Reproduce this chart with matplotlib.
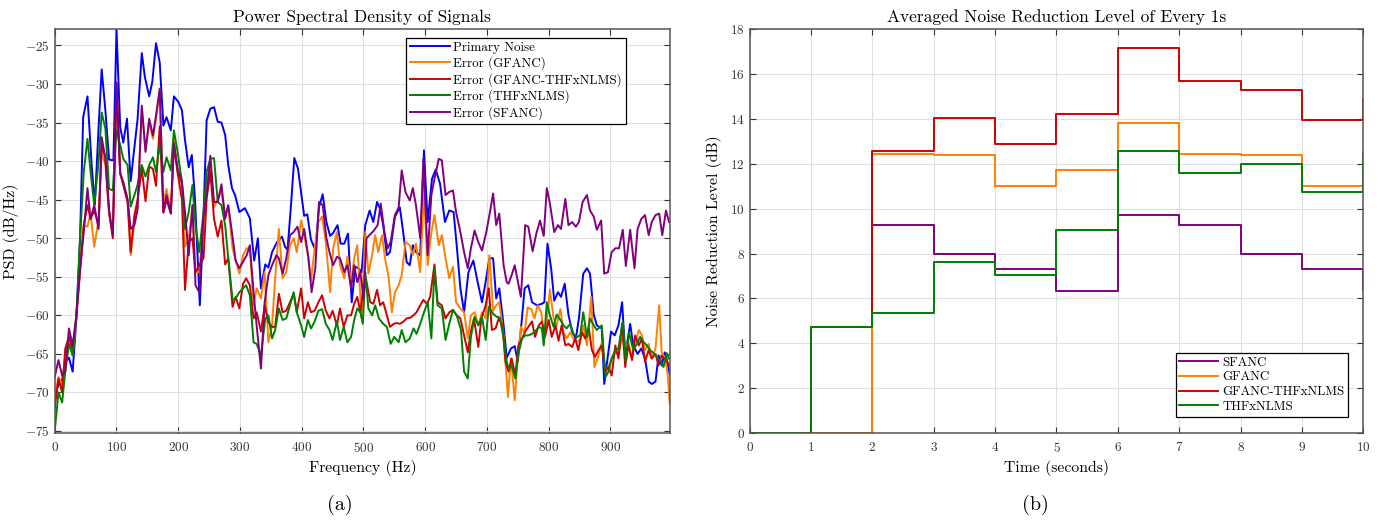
import numpy as np
import matplotlib
matplotlib.use("Agg")
import matplotlib.pyplot as plt

# 1. DATA - PSD of signals (Hz / dB/Hz)
f_primary = [0, 6, 12, 17, 23, 29, 35, 41, 46, 53,
             60, 65, 71, 76, 82, 88, 95, 100, 106, 111,
             117, 123, 129, 134, 141, 146, 153, 158, 164, 170,
             176, 181, 188, 193, 200, 206, 211, 217, 222, 227,
             235, 241, 246, 252, 258, 264, 270, 276, 281, 287,
             292, 299, 308, 316, 323, 329, 334, 341, 346, 352,
             360, 368, 373, 377, 382, 388, 394, 399, 404, 409,
             415, 422, 428, 434, 440, 446, 451, 458, 463, 469,
             475, 481, 487, 492, 497, 503, 510, 516, 522, 527,
             532, 538, 543, 551, 559, 565, 570, 575, 580, 585,
             592, 598, 604, 611, 617, 624, 632, 639, 646, 651,
             657, 663, 670, 678, 685, 692, 697, 704, 710, 715,
             720, 727, 732, 739, 745, 750, 756, 761, 767, 773,
             781, 789, 793, 798, 804, 809, 815, 820, 826, 832,
             838, 844, 849, 856, 862, 867, 873, 878, 886, 890,
             896, 901, 907, 913, 919, 924, 932, 937, 944, 950,
             956, 962, 967, 973, 978, 983, 988, 991, 996]
psd_primary = [-70.5, -69.0, -68.3, -66.0, -65.5, -67.3, -60.5, -50.0, -34.3, -31.6,
               -40.8, -45.6, -35.6, -28.1, -33.4, -39.8, -39.9, -22.9, -35.6, -37.6,
               -34.5, -42.6, -38.2, -34.7, -26.0, -29.1, -31.6, -29.7, -24.7, -27.2,
               -35.4, -34.3, -36.0, -31.6, -32.3, -33.4, -37.3, -40.8, -39.2, -44.7,
               -58.7, -47.0, -34.7, -33.2, -33.0, -34.9, -35.0, -36.6, -40.5, -43.5,
               -44.4, -46.6, -46.1, -47.4, -52.9, -50.0, -56.5, -53.4, -53.8, -51.8,
               -50.5, -49.8, -51.1, -51.5, -46.4, -39.6, -41.0, -44.0, -47.1, -46.9,
               -50.2, -51.5, -46.0, -44.3, -47.9, -49.7, -49.3, -48.3, -50.7, -50.7,
               -49.4, -58.3, -53.7, -53.9, -54.4, -48.3, -46.4, -47.9, -45.3, -46.2,
               -48.3, -52.2, -51.8, -47.2, -46.0, -49.6, -53.1, -53.5, -50.9, -51.8,
               -52.2, -38.6, -47.9, -42.3, -41.1, -42.9, -47.9, -46.4, -46.6, -50.9,
               -56.5, -59.6, -54.4, -52.9, -55.7, -58.3, -56.1, -52.6, -52.6, -57.8,
               -56.5, -61.3, -65.5, -64.3, -64.0, -66.0, -61.0, -56.5, -56.1, -58.3,
               -58.7, -58.5, -58.3, -50.7, -53.9, -58.1, -57.0, -57.6, -55.9, -59.9,
               -62.1, -63.0, -60.4, -54.6, -53.9, -54.6, -59.9, -61.3, -61.7, -68.9,
               -65.2, -62.1, -62.6, -61.3, -58.3, -65.2, -61.1, -63.9, -65.0, -64.3,
               -65.6, -68.6, -68.9, -68.6, -65.2, -66.5, -64.8, -65.6, -67.6]

f_gfanc = [0, 6, 12, 17, 23, 29, 35, 41, 47, 53,
           58, 64, 71, 76, 82, 88, 94, 100, 106, 111,
           118, 123, 129, 134, 141, 147, 153, 159, 164, 170,
           176, 181, 188, 193, 199, 206, 211, 217, 223, 228,
           234, 241, 246, 252, 258, 264, 270, 276, 281, 288,
           293, 299, 305, 311, 316, 322, 327, 334, 340, 346,
           352, 357, 363, 369, 375, 381, 387, 392, 399, 404,
           410, 415, 421, 427, 433, 439, 446, 451, 457, 462,
           469, 474, 480, 485, 490, 497, 503, 508, 514, 519,
           524, 530, 535, 541, 546, 551, 557, 562, 568, 575,
           580, 585, 592, 598, 604, 610, 615, 622, 627, 633,
           639, 645, 650, 657, 663, 669, 674, 680, 686, 692,
           698, 704, 710, 715, 720, 727, 734, 739, 745, 750,
           755, 761, 766, 772, 777, 782, 788, 793, 799, 802,
           808, 813, 819, 824, 829, 835, 840, 846, 851, 856,
           862, 869, 874, 880, 886, 892, 897, 902, 908, 913,
           919, 924, 929, 935, 940, 946, 951, 956, 962, 967,
           973, 979, 983, 989, 993, 996]
psd_gfanc = [-70.4, -68.0, -69.1, -65.2, -62.8, -65.2, -60.3, -52.6, -48.3, -48.5,
             -46.8, -51.1, -47.5, -38.9, -40.5, -47.0, -49.6, -31.0, -41.4, -43.1,
             -45.1, -52.2, -47.9, -46.0, -33.2, -38.6, -34.9, -37.1, -34.5, -31.0,
             -45.3, -43.6, -46.6, -37.1, -41.4, -43.1, -51.1, -50.0, -46.0, -54.4,
             -54.4, -48.3, -42.7, -40.5, -46.0, -44.9, -44.0, -47.0, -45.8, -51.3,
             -52.9, -54.6, -52.2, -51.3, -51.3, -58.7, -56.5, -57.8, -54.4, -63.5,
             -61.3, -55.2, -48.8, -55.2, -54.4, -50.9, -50.0, -51.8, -47.7, -49.6,
             -52.2, -55.5, -51.3, -47.9, -47.2, -50.5, -57.0, -51.3, -49.2, -53.5,
             -55.2, -52.4, -55.7, -52.6, -50.9, -60.4, -49.2, -54.6, -52.2, -49.6,
             -51.8, -49.6, -52.6, -55.2, -59.6, -57.0, -56.1, -54.8, -50.5, -50.9,
             -52.2, -50.7, -54.4, -44.2, -53.5, -49.2, -47.0, -50.9, -49.6, -52.6,
             -55.2, -53.7, -58.3, -59.1, -59.6, -63.0, -60.0, -59.6, -61.3, -59.6,
             -60.4, -52.2, -59.4, -58.7, -58.3, -62.6, -70.6, -65.6, -71.0, -65.6,
             -61.5, -62.2, -59.0, -59.2, -60.4, -58.7, -59.6, -63.0, -59.2, -56.7,
             -60.4, -61.3, -59.2, -62.2, -63.0, -62.2, -63.0, -63.5, -63.0, -61.3,
             -63.9, -57.6, -66.7, -65.4, -63.5, -67.3, -66.5, -65.6, -64.8, -65.0,
             -63.0, -64.1, -63.5, -65.6, -63.7, -61.9, -62.6, -64.5, -63.7, -65.6,
             -64.3, -58.7, -64.8, -65.6, -67.8, -71.5]

f_hybrid = [0, 6, 12, 17, 23, 29, 35, 41, 47, 53,
            58, 64, 71, 76, 82, 88, 94, 100, 106, 111,
            118, 123, 129, 134, 141, 147, 153, 159, 164, 170,
            176, 181, 188, 193, 199, 206, 211, 217, 223, 228,
            234, 241, 246, 252, 258, 264, 270, 276, 281, 288,
            293, 299, 305, 310, 316, 322, 327, 334, 340, 346,
            352, 357, 363, 369, 375, 381, 387, 392, 399, 404,
            410, 415, 421, 427, 433, 439, 445, 450, 457, 462,
            468, 474, 480, 485, 490, 495, 499, 504, 511, 516,
            522, 527, 532, 538, 543, 549, 554, 559, 565, 570,
            576, 581, 586, 592, 597, 603, 608, 615, 620, 627,
            633, 639, 645, 651, 657, 663, 669, 674, 679, 686,
            691, 698, 703, 708, 714, 719, 725, 730, 735, 740,
            746, 751, 757, 762, 767, 773, 778, 784, 789, 794,
            800, 805, 811, 816, 821, 827, 832, 838, 843, 848,
            854, 859, 865, 870, 875, 881, 886, 892, 897, 902,
            908, 913, 919, 924, 929, 935, 940, 946, 951, 956,
            962, 967, 973, 978, 983, 989, 994]
psd_hybrid = [-72.0, -68.2, -70.0, -64.3, -62.8, -64.5, -60.3, -54.4, -48.3, -45.7,
              -47.5, -46.4, -48.3, -37.9, -39.5, -46.4, -50.0, -30.0, -41.6, -43.1,
              -45.3, -51.8, -47.0, -45.1, -41.0, -45.2, -40.7, -41.0, -43.2, -35.5,
              -46.7, -45.0, -46.8, -38.0, -41.5, -45.0, -56.7, -50.5, -50.0, -54.4,
              -53.5, -52.6, -44.9, -41.4, -47.5, -49.8, -47.7, -53.4, -52.6, -58.9,
              -57.6, -59.1, -55.9, -55.2, -56.1, -60.4, -59.6, -62.1, -58.7, -60.9,
              -61.5, -61.5, -57.2, -59.6, -59.4, -58.3, -57.2, -59.6, -56.5, -60.4,
              -58.3, -59.6, -59.4, -58.3, -57.4, -59.4, -60.4, -59.4, -61.3, -59.1,
              -61.5, -60.0, -60.0, -58.5, -57.6, -59.6, -57.0, -55.2, -58.3, -58.5,
              -56.7, -58.7, -58.3, -60.0, -61.5, -61.1, -61.0, -61.1, -60.8, -60.4,
              -60.3, -60.0, -59.6, -58.7, -58.0, -58.5, -57.6, -53.4, -58.3, -58.7,
              -60.4, -59.6, -59.3, -60.0, -60.4, -62.6, -64.8, -62.1, -60.4, -64.1,
              -60.4, -58.7, -56.5, -61.9, -61.7, -60.4, -61.3, -66.0, -67.3, -65.6,
              -67.8, -63.9, -63.0, -62.1, -61.5, -60.8, -62.8, -61.3, -60.8, -62.8,
              -60.6, -62.8, -61.3, -63.3, -61.3, -63.9, -63.7, -64.1, -63.0, -64.5,
              -62.2, -63.0, -61.7, -64.5, -65.4, -64.5, -63.9, -67.3, -66.7, -67.8,
              -63.9, -65.6, -61.1, -66.7, -63.9, -65.8, -62.6, -63.9, -63.0, -66.0,
              -64.5, -65.6, -65.0, -66.5, -65.2, -65.8, -66.3]

f_thfx = [0, 6, 12, 17, 23, 29, 35, 41, 47, 53,
          58, 64, 71, 76, 82, 88, 94, 100, 106, 111,
          118, 123, 129, 134, 141, 147, 153, 159, 164, 170,
          176, 181, 188, 193, 199, 206, 211, 217, 223, 228,
          234, 241, 246, 252, 258, 264, 270, 276, 281, 288,
          293, 299, 305, 310, 316, 322, 327, 334, 341, 346,
          352, 357, 363, 369, 375, 381, 387, 392, 399, 404,
          410, 415, 421, 427, 433, 439, 445, 450, 457, 462,
          468, 474, 480, 485, 490, 495, 499, 503, 508, 514,
          519, 525, 532, 538, 544, 550, 557, 562, 568, 575,
          581, 586, 592, 598, 604, 610, 615, 620, 627, 633,
          639, 645, 651, 658, 663, 669, 674, 680, 686, 692,
          698, 703, 710, 716, 721, 727, 732, 735, 740, 746,
          751, 757, 762, 767, 773, 778, 784, 789, 792, 797,
          802, 808, 813, 819, 824, 829, 835, 840, 846, 851,
          856, 862, 867, 873, 878, 886, 892, 897, 902, 908,
          913, 920, 925, 930, 937, 943, 948, 954, 959, 964,
          970, 975, 981, 986, 991, 995]
psd_thfx = [-75.0, -70.0, -71.3, -67.3, -63.7, -65.2, -60.0, -50.0, -41.4, -37.1,
            -41.4, -45.7, -40.1, -33.7, -35.8, -43.6, -43.8, -36.0, -37.9, -39.7,
            -40.5, -45.9, -44.4, -43.1, -40.5, -42.0, -40.5, -39.5, -41.4, -37.9,
            -41.4, -39.5, -41.2, -36.0, -38.8, -42.7, -48.8, -46.6, -43.1, -48.3,
            -51.8, -46.6, -41.4, -39.7, -39.6, -45.3, -45.7, -48.3, -52.6, -58.0,
            -57.8, -57.0, -56.5, -56.1, -57.4, -63.5, -63.7, -65.2, -60.4, -60.0,
            -63.0, -61.9, -59.1, -60.6, -60.4, -58.7, -57.0, -59.6, -61.3, -62.8,
            -60.6, -61.7, -60.8, -59.4, -59.2, -61.1, -61.9, -63.2, -60.8, -63.2,
            -61.5, -63.5, -62.8, -60.6, -59.1, -59.6, -61.1, -54.4, -59.1, -60.0,
            -58.7, -60.4, -61.1, -61.5, -63.7, -62.8, -63.5, -61.9, -63.5, -63.0,
            -61.7, -62.4, -61.1, -59.6, -58.3, -63.0, -53.9, -58.7, -59.1, -63.2,
            -61.1, -59.3, -60.0, -61.9, -67.3, -68.2, -62.8, -60.2, -61.3, -60.2,
            -63.2, -58.9, -59.8, -60.2, -60.3, -63.0, -66.0, -66.9, -66.5, -68.2,
            -64.9, -63.0, -62.6, -62.6, -62.4, -62.1, -61.5, -61.7, -63.9, -58.3,
            -60.0, -61.5, -59.9, -60.6, -61.3, -61.7, -61.1, -62.4, -62.8, -62.6,
            -59.6, -62.8, -60.4, -61.3, -61.9, -61.3, -68.0, -67.3, -65.6, -64.5,
            -64.3, -60.8, -66.0, -62.2, -64.5, -63.7, -62.8, -63.5, -63.9, -64.5,
            -64.9, -65.4, -65.8, -66.7, -64.9, -65.6]

f_sfanc = [0, 6, 12, 17, 23, 29, 35, 41, 47, 53,
           58, 64, 71, 76, 82, 88, 94, 100, 106, 111,
           118, 123, 129, 134, 141, 147, 153, 159, 164, 170,
           176, 181, 188, 193, 199, 206, 211, 217, 223, 228,
           234, 241, 246, 252, 258, 264, 270, 276, 281, 287,
           293, 299, 306, 311, 316, 322, 327, 334, 340, 346,
           352, 359, 363, 369, 375, 381, 387, 393, 399, 404,
           411, 416, 422, 428, 434, 440, 445, 451, 457, 462,
           469, 474, 480, 485, 490, 495, 500, 505, 512, 517,
           523, 528, 534, 539, 544, 551, 557, 562, 568, 575,
           580, 585, 592, 597, 604, 610, 615, 622, 627, 633,
           639, 645, 650, 657, 663, 669, 674, 680, 686, 692,
           699, 704, 710, 715, 720, 727, 732, 735, 740, 745,
           750, 755, 762, 767, 774, 780, 786, 792, 797, 802,
           809, 815, 820, 827, 832, 838, 844, 849, 855, 862,
           867, 873, 878, 885, 890, 896, 902, 908, 914, 920,
           925, 932, 939, 944, 950, 956, 962, 967, 973, 979,
           984, 990, 995]
psd_sfanc = [-68.0, -65.8, -67.8, -67.3, -61.7, -63.9, -60.0, -54.0, -49.2, -43.5,
             -47.5, -45.7, -48.8, -36.9, -39.7, -46.4, -49.6, -29.8, -41.6, -42.7,
             -44.9, -48.8, -48.3, -46.4, -32.8, -38.8, -34.5, -36.7, -34.1, -30.6,
             -46.6, -44.4, -46.8, -37.7, -41.0, -42.7, -46.6, -52.2, -45.7, -56.1,
             -57.0, -47.0, -44.4, -39.3, -45.3, -45.3, -43.0, -47.5, -45.7, -49.2,
             -52.9, -53.9, -52.9, -52.2, -50.9, -57.0, -61.3, -66.9, -58.3, -54.8,
             -53.5, -52.2, -52.6, -54.6, -52.6, -49.6, -49.2, -48.5, -50.5, -48.8,
             -52.6, -57.0, -53.9, -45.3, -45.7, -50.0, -51.8, -53.5, -52.4, -52.6,
             -54.4, -53.5, -56.5, -53.5, -55.7, -54.4, -57.8, -50.0, -49.4, -49.0,
             -48.3, -45.5, -49.2, -51.3, -50.5, -47.0, -46.0, -41.2, -44.0, -45.1,
             -43.5, -45.7, -50.0, -39.7, -52.2, -44.4, -42.3, -39.7, -39.9, -44.4,
             -44.0, -43.8, -46.6, -49.2, -51.8, -53.9, -51.3, -49.0, -50.5, -51.6,
             -49.2, -47.0, -44.2, -48.3, -46.8, -53.5, -55.7, -55.9, -54.8, -53.5,
             -55.6, -57.6, -48.3, -48.5, -51.7, -49.4, -47.7, -49.7, -43.5, -45.5,
             -49.2, -48.3, -48.8, -44.9, -48.3, -47.9, -48.5, -47.9, -45.3, -44.4,
             -46.4, -47.2, -48.9, -47.7, -54.6, -54.4, -51.8, -51.3, -51.3, -48.9,
             -53.6, -48.9, -53.9, -48.8, -47.5, -47.0, -49.6, -47.9, -47.0, -46.8,
             -49.6, -46.4, -47.9]

# 2. DATA - averaged noise reduction per second (dB)
t_sec = [0, 1, 2, 3, 4, 5, 6, 7, 8, 9, 10]
nr_sfanc = [0, 0, 9.29, 7.98, 7.30, 6.35, 9.70, 9.27, 7.98, 7.30, 6.38]
nr_gfanc = [0, 0, 12.45, 12.38, 11.01, 11.73, 13.82, 12.45, 12.38, 11.01, 11.73]
nr_hybrid = [0, 4.73, 12.57, 14.03, 12.88, 14.24, 17.15, 15.69, 15.31, 13.94, 14.88]
nr_thfx = [0, 4.74, 5.34, 7.61, 7.04, 9.05, 12.57, 11.61, 11.99, 10.76, 12.54]

c_blue = "#0000FF"
c_orange = "#FF8000"
c_red = "#D00000"
c_green = "#008000"
c_purple = "#800080"

plt.rcParams["font.family"] = "cmr10"
plt.rcParams["mathtext.fontset"] = "cm"
plt.rcParams["axes.unicode_minus"] = False
plt.rcParams["axes.formatter.use_mathtext"] = True


def style_axes(ax):
    for s in ax.spines.values():
        s.set_color("#555555")
        s.set_linewidth(1.1)
    ax.tick_params(direction="in", top=True, right=True, length=4, width=0.8,
                   color="#333333", labelcolor="#333333", labelsize=9.5)
    ax.tick_params(axis="x", pad=5.5)
    ax.tick_params(axis="y", pad=3.5)
    ax.grid(True, color="#e0e0e0", linewidth=0.8)
    ax.set_axisbelow(True)


fig = plt.figure(figsize=(13.86, 5.23), dpi=100)

# 3. LEFT - PSD
ax1 = fig.add_axes([0.0395, 0.1715, 0.4439, 0.7725])
ax1.plot(f_primary, psd_primary, color=c_blue, lw=1.4, label="Primary Noise")
ax1.plot(f_gfanc, psd_gfanc, color=c_orange, lw=1.4, label="Error (GFANC)")
ax1.plot(f_hybrid, psd_hybrid, color=c_red, lw=1.4, label="Error (GFANC-THFxNLMS)")
ax1.plot(f_thfx, psd_thfx, color=c_green, lw=1.4, label="Error (THFxNLMS)")
ax1.plot(f_sfanc, psd_sfanc, color=c_purple, lw=1.4, label="Error (SFANC)")
ax1.set_xlim(0, 996.5)
ax1.set_ylim(-75.3, -22.9)
ax1.set_xticks(np.arange(0, 901, 100))
ax1.set_yticks(np.arange(-75, -24, 5))
style_axes(ax1)
ax1.set_title("Power Spectral Density of Signals", fontsize=12.5, pad=5)
ax1.set_xlabel("Frequency (Hz)", fontsize=11.3, labelpad=4)
ax1.set_ylabel("PSD (dB/Hz)", fontsize=11.3, labelpad=4)
leg1 = ax1.legend(loc="upper right", bbox_to_anchor=(0.9285, 0.9785), borderaxespad=0,
                  fontsize=9.4, fancybox=False, framealpha=1, edgecolor="black",
                  handlelength=3.0, handletextpad=0.3, borderpad=0.3, labelspacing=0.2)
leg1.get_frame().set_linewidth(0.9)

# 4. RIGHT - noise reduction stairs
ax2 = fig.add_axes([0.5409, 0.1721, 0.4427, 0.7719])
ax2.step(t_sec, nr_sfanc, where="post", color=c_purple, lw=1.4, label="SFANC")
ax2.step(t_sec, nr_gfanc, where="post", color=c_orange, lw=1.4, label="GFANC")
ax2.step(t_sec, nr_hybrid, where="post", color=c_red, lw=1.4, label="GFANC-THFxNLMS")
ax2.step(t_sec, nr_thfx, where="post", color=c_green, lw=1.4, label="THFxNLMS")
ax2.set_xlim(0, 10)
ax2.set_ylim(0, 18)
ax2.set_xticks(np.arange(0, 11, 1))
ax2.set_yticks(np.arange(0, 19, 2))
style_axes(ax2)
ax2.set_title("Averaged Noise Reduction Level of Every 1s", fontsize=12.5, pad=5)
ax2.set_xlabel("Time (seconds)", fontsize=11.3, labelpad=4)
ax2.set_ylabel("Noise Reduction Level (dB)", fontsize=11.3, labelpad=6)
leg2 = ax2.legend(loc="lower right", bbox_to_anchor=(0.9755, 0.0404), borderaxespad=0,
                  fontsize=9.3, fancybox=False, framealpha=1, edgecolor="black",
                  handlelength=3.0, handletextpad=0.3, borderpad=0.3, labelspacing=0.2)
leg2.get_frame().set_linewidth(0.9)

# 5. SUBFIGURE CAPTIONS
fig.text(340 / 1386, 1 - 505 / 523, "(a)", fontsize=14.5, ha="center", va="center")
fig.text(1035 / 1386, 1 - 505 / 523, "(b)", fontsize=14.5, ha="center", va="center")

fig.savefig("out.png", dpi=100)
